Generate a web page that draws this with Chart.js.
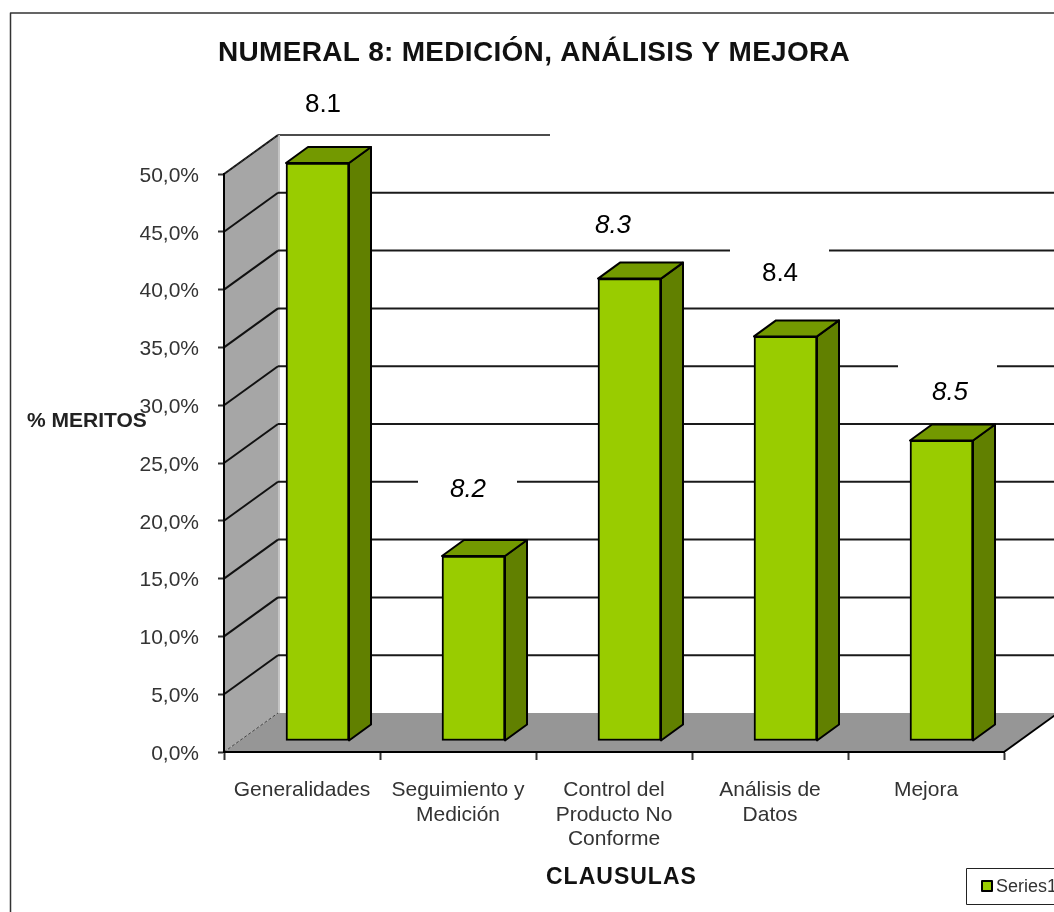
<!DOCTYPE html>
<html>
<head>
<meta charset="utf-8">
<style>html,body{margin:0;padding:0;background:#fff;overflow:hidden}canvas{display:block}</style>
<script src="https://cdn.jsdelivr.net/npm/chart.js@4"></script>
</head>
<body>
<canvas id="c" width="1054" height="912"></canvas>
<script>
const categories = [["Generalidades"], ["Seguimiento y", "Medición"], ["Control del", "Producto No", "Conforme"], ["Análisis de", "Datos"], ["Mejora"]];
const seriesName = "Series1";
const values = [50, 16, 40, 35, 26];
const clauseLabels = ["8.1", "8.2", "8.3", "8.4", "8.5"];
const titleText = "NUMERAL 8: MEDICIÓN, ANÁLISIS Y MEJORA";
const yTitle = "% MERITOS";
const xTitle = "CLAUSULAS";

const FONT = '"Liberation Sans", Arial, sans-serif';
const BACK = {dx: 54, dy: -39};
const BAR = {dx: 15.5, dy: -11, ox: 22, oy: 16};
const LABEL_LAYOUT = [
  {x: 323, y: 103, italic: false, box: false},
  {x: 468, y: 488, italic: true, box: [418, 463, 99, 50]},
  {x: 613, y: 224, italic: true, box: [563, 199, 99, 50]},
  {x: 780, y: 272, italic: false, box: [730, 247, 99, 50]},
  {x: 950, y: 391, italic: true, box: [898, 365, 99, 50]}
];

function poly(ctx, pts, fill, stroke, lw, dash) {
  ctx.beginPath();
  pts.forEach((p, i) => i ? ctx.lineTo(p[0], p[1]) : ctx.moveTo(p[0], p[1]));
  if (fill) { ctx.closePath(); ctx.fillStyle = fill; ctx.fill(); }
  if (stroke) {
    ctx.strokeStyle = stroke; ctx.lineWidth = lw || 1; ctx.lineJoin = 'round';
    ctx.setLineDash(dash || []); ctx.stroke(); ctx.setLineDash([]);
  }
}
function text(ctx, s, x, y, font, color, align, spacing) {
  ctx.font = font; ctx.fillStyle = color; ctx.textAlign = align || 'center';
  ctx.textBaseline = 'middle'; ctx.letterSpacing = spacing || '0px';
  ctx.fillText(s, x, y); ctx.letterSpacing = '0px';
}

const scene3d = {
  id: 'scene3d',
  beforeDraw(chart) {
    const ctx = chart.ctx, a = chart.chartArea, ys = chart.scales.y;
    const L = a.left, R = a.right, T = a.top, B = a.bottom, W = chart.width, H = chart.height;
    ctx.save();
    ctx.fillStyle = '#fff'; ctx.fillRect(0, 0, W, H);
    // chart frame
    poly(ctx, [[10.5, H], [10.5, 13], [W, 13]], null, '#333', 1.5);
    // back wall edges
    poly(ctx, [[L + BACK.dx, T + BACK.dy], [550, T + BACK.dy]], null, '#111', 1.5);
    // side wall and floor
    poly(ctx, [[L, B], [L, T], [L + BACK.dx, T + BACK.dy], [L + BACK.dx, B + BACK.dy]], '#a6a6a6');
    poly(ctx, [[L, B], [R, B], [R + BACK.dx, B + BACK.dy], [L + BACK.dx, B + BACK.dy]], '#969696');
    poly(ctx, [[L + BACK.dx + 1, T + BACK.dy], [L + BACK.dx + 1, B + BACK.dy]], null, '#c4c4c4', 2);
    // gridlines
    ys.ticks.forEach(t => {
      if (t.value === 0) return;
      const y = ys.getPixelForValue(t.value);
      poly(ctx, [[L, y], [L + BACK.dx, y + BACK.dy]], null, '#111', 2);
      if (t.value < ys.max) poly(ctx, [[L + BACK.dx, y + BACK.dy], [W, y + BACK.dy]], null, '#1a1a1a', 2);
    });
    poly(ctx, [[L, T], [L + BACK.dx, T + BACK.dy]], null, '#333', 1, [3, 2]);
    poly(ctx, [[L, B], [L + BACK.dx, B + BACK.dy]], null, '#444', 1, [3, 2]);
    poly(ctx, [[R, B], [R + BACK.dx, B + BACK.dy]], null, '#000', 2);
    // white label boxes interrupting the gridlines
    LABEL_LAYOUT.forEach(l => { if (l.box) { ctx.fillStyle = '#fff'; ctx.fillRect(l.box[0], l.box[1], l.box[2], l.box[3]); } });
    ctx.restore();
  },
  beforeDatasetsDraw(chart) {
    const ctx = chart.ctx;
    ctx.save();
    chart.getDatasetMeta(0).data.forEach(b => {
      const x0 = b.x - b.width / 2 + BAR.dx, x1 = b.x + b.width / 2 + BAR.dx;
      const yt = b.y + BAR.dy, yb = b.base + BAR.dy;
      poly(ctx, [[x1, yt], [x1 + BAR.ox, yt - BAR.oy], [x1 + BAR.ox, yb - BAR.oy], [x1, yb]], '#618000', '#000', 2);
      poly(ctx, [[x0, yt], [x0 + BAR.ox, yt - BAR.oy], [x1 + BAR.ox, yt - BAR.oy], [x1, yt]], '#739900', '#000', 2);
    });
    ctx.restore();
  },
  beforeDatasetDraw(chart) { chart.ctx.save(); chart.ctx.translate(BAR.dx, BAR.dy); },
  afterDatasetDraw(chart) { chart.ctx.restore(); },
  afterDraw(chart) {
    const ctx = chart.ctx;
    ctx.save();
    text(ctx, titleText, 218, 53, 'bold 28px ' + FONT, '#111', 'left', '0.3px');
    clauseLabels.forEach((s, i) => {
      const l = LABEL_LAYOUT[i];
      text(ctx, s, l.x, l.y + 2, (l.italic ? 'italic ' : '') + '26px ' + FONT, '#000');
    });
    text(ctx, yTitle, 27, 421, 'bold 21px ' + FONT, '#222', 'left');
    text(ctx, xTitle, 546, 878, 'bold 23px ' + FONT, '#111', 'left', '1px');
    // legend
    ctx.fillStyle = '#fff'; ctx.fillRect(966, 868, 88, 36);
    poly(ctx, [[chart.width, 868.5], [966.5, 868.5], [966.5, 904.5], [chart.width, 904.5]], null, '#222', 1);
    ctx.fillStyle = '#99cc00'; ctx.strokeStyle = '#000'; ctx.lineWidth = 2;
    ctx.fillRect(982, 881, 10, 10); ctx.strokeRect(982, 881, 10, 10);
    text(ctx, seriesName, 996, 887, '18px ' + FONT, '#333', 'left');
    ctx.restore();
  }
};

new Chart(document.getElementById('c'), {
  type: 'bar',
  data: {
    labels: categories,
    datasets: [{
      label: seriesName,
      data: values,
      backgroundColor: '#99cc00',
      borderColor: '#000',
      borderWidth: 2,
      borderSkipped: false,
      barThickness: 63,
      clip: false
    }]
  },
  options: {
    responsive: false,
    animation: false,
    layout: {padding: {left: 0, right: 50, top: 174, bottom: 0}},
    plugins: {legend: {display: false}, title: {display: false}, tooltip: {enabled: false}},
    scales: {
      x: {
        afterFit(s) { s.height = 160; },
        border: {color: '#000', width: 2},
        grid: {drawOnChartArea: false, offset: true, tickLength: 8, tickWidth: 2, tickColor: '#333'},
        ticks: {
          color: '#333', padding: 18, maxRotation: 0, minRotation: 0, autoSkip: false,
          font: {family: FONT, size: 21, lineHeight: 1.167}
        }
      },
      y: {
        min: 0, max: 50,
        afterFit(s) { s.width = 224; },
        border: {color: '#000', width: 2},
        grid: {drawOnChartArea: false, tickLength: 6, tickWidth: 2, tickColor: '#333'},
        ticks: {
          stepSize: 5, color: '#333', padding: 19, labelOffset: 2,
          font: {family: FONT, size: 21},
          callback: v => v.toFixed(1).replace('.', ',') + '%'
        }
      }
    }
  },
  plugins: [scene3d]
});
</script>
</body>
</html>
